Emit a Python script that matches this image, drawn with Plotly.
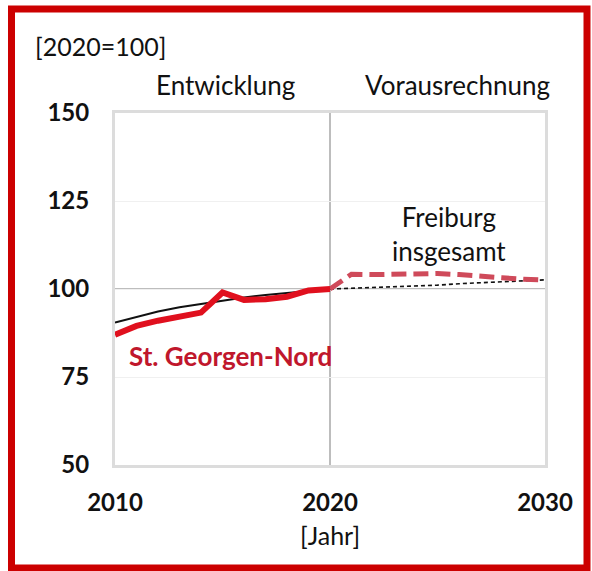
import plotly.graph_objects as go

# Index 2020 = 100
years_hist = [2010, 2011, 2012, 2013, 2014, 2015, 2016, 2017, 2018, 2019, 2020]
years_proj = [2020, 2021, 2022, 2023, 2024, 2025, 2026, 2027, 2028, 2029, 2030]

stg_hist = [87.0, 89.5, 91.0, 92.1, 93.3, 99.0, 96.9, 97.1, 97.8, 99.6, 100.0]
stg_proj = [100.0, 104.2, 104.1, 104.3, 104.5, 104.4, 104.1, 103.8, 103.2, 102.8, 102.5]

fr_hist = [90.5, 92.1, 93.6, 94.8, 95.7, 96.8, 97.6, 98.3, 98.9, 99.5, 100.0]
fr_proj = [100.0, 100.2, 100.4, 100.6, 100.9, 101.1, 101.5, 101.8, 102.1, 102.4, 102.6]

x_ticks = [2010, 2020, 2030]
y_ticks = [50, 75, 100, 125, 150]

FONT = "Lato"
RED = "#e0101e"
RED_LABEL = "#c0172c"
RED_DASH = "#cf4a5a"
FRAME = "#cc0000"

fig = go.Figure()

fig.add_trace(go.Scatter(x=years_proj, y=fr_proj, mode="lines",
                         line=dict(color="#111111", width=1.6, dash="4px,3px")))
fig.add_trace(go.Scatter(x=years_hist, y=fr_hist, mode="lines",
                         line=dict(color="#111111", width=2)))
fig.add_trace(go.Scatter(x=years_proj, y=stg_proj, mode="lines",
                         line=dict(color=RED_DASH, width=5, dash="15px,7px")))
fig.add_trace(go.Scatter(x=years_hist, y=stg_hist, mode="lines",
                         line=dict(color=RED, width=6)))

# reference lines: index 100 and the 2020 split between history and projection
fig.add_shape(type="line", xref="x", yref="y", x0=2010, x1=2030, y0=100, y1=100,
              line=dict(color="#bdbdbd", width=2), layer="below")
fig.add_shape(type="line", xref="x", yref="y", x0=2020, x1=2020, y0=50, y1=150,
              line=dict(color="#bdbdbd", width=2), layer="below")

# outer red frame
fig.add_shape(type="rect", xref="paper", yref="paper",
              x0=(11.5 - 115) / 430, x1=(587 - 115) / 430,
              y0=(465 - 568) / 352, y1=(465 - 9) / 352,
              line=dict(color=FRAME, width=7))

def px_x(p):
    return (p - 115) / 430

def px_y(p):
    return (465 - p) / 352

annotations = [
    dict(text="[2020=100]", x=px_x(33), y=px_y(46), xanchor="left",
         font=dict(size=25, color="#111111")),
    dict(text="Entwicklung", x=px_x(225), y=px_y(85),
         font=dict(size=26, color="#111111")),
    dict(text="Vorausrechnung", x=px_x(457), y=px_y(85),
         font=dict(size=26, color="#111111")),
    dict(text="Freiburg<br>insgesamt", x=px_x(449), y=px_y(234),
         font=dict(size=26, color="#111111")),
    dict(text="<b>St. Georgen-Nord</b>", x=px_x(230), y=px_y(356),
         font=dict(size=26, color=RED_LABEL)),
    dict(text="[Jahr]", x=px_x(330), y=px_y(535),
         font=dict(size=25, color="#111111")),
]
for a in annotations:
    a.setdefault("xanchor", "center")
    a.update(xref="paper", yref="paper", yanchor="middle", showarrow=False)

fig.update_layout(
    width=592, height=571,
    margin=dict(l=115, r=47, t=113, b=106),
    paper_bgcolor="white", plot_bgcolor="white",
    showlegend=False,
    font=dict(family=FONT, color="#111111"),
    annotations=annotations,
    xaxis=dict(range=[2010, 2030], tickvals=x_ticks, ticktext=[str(v) for v in x_ticks],
               showgrid=False, zeroline=False, showline=True, mirror=True,
               linecolor="#dcdcdc", linewidth=3, ticks="", ticklabelstandoff=14,
               tickfont=dict(size=24, family=FONT, weight="bold", color="#111111")),
    yaxis=dict(range=[50, 150], tickvals=y_ticks, ticktext=[str(v) for v in y_ticks],
               showgrid=True, gridcolor="#f0f0f0", gridwidth=1, zeroline=False,
               showline=True, mirror=True, linecolor="#dcdcdc", linewidth=3, ticks="",
               ticklabelstandoff=18,
               tickfont=dict(size=24, family=FONT, weight="bold", color="#111111")),
)

fig.write_html("out.html")
